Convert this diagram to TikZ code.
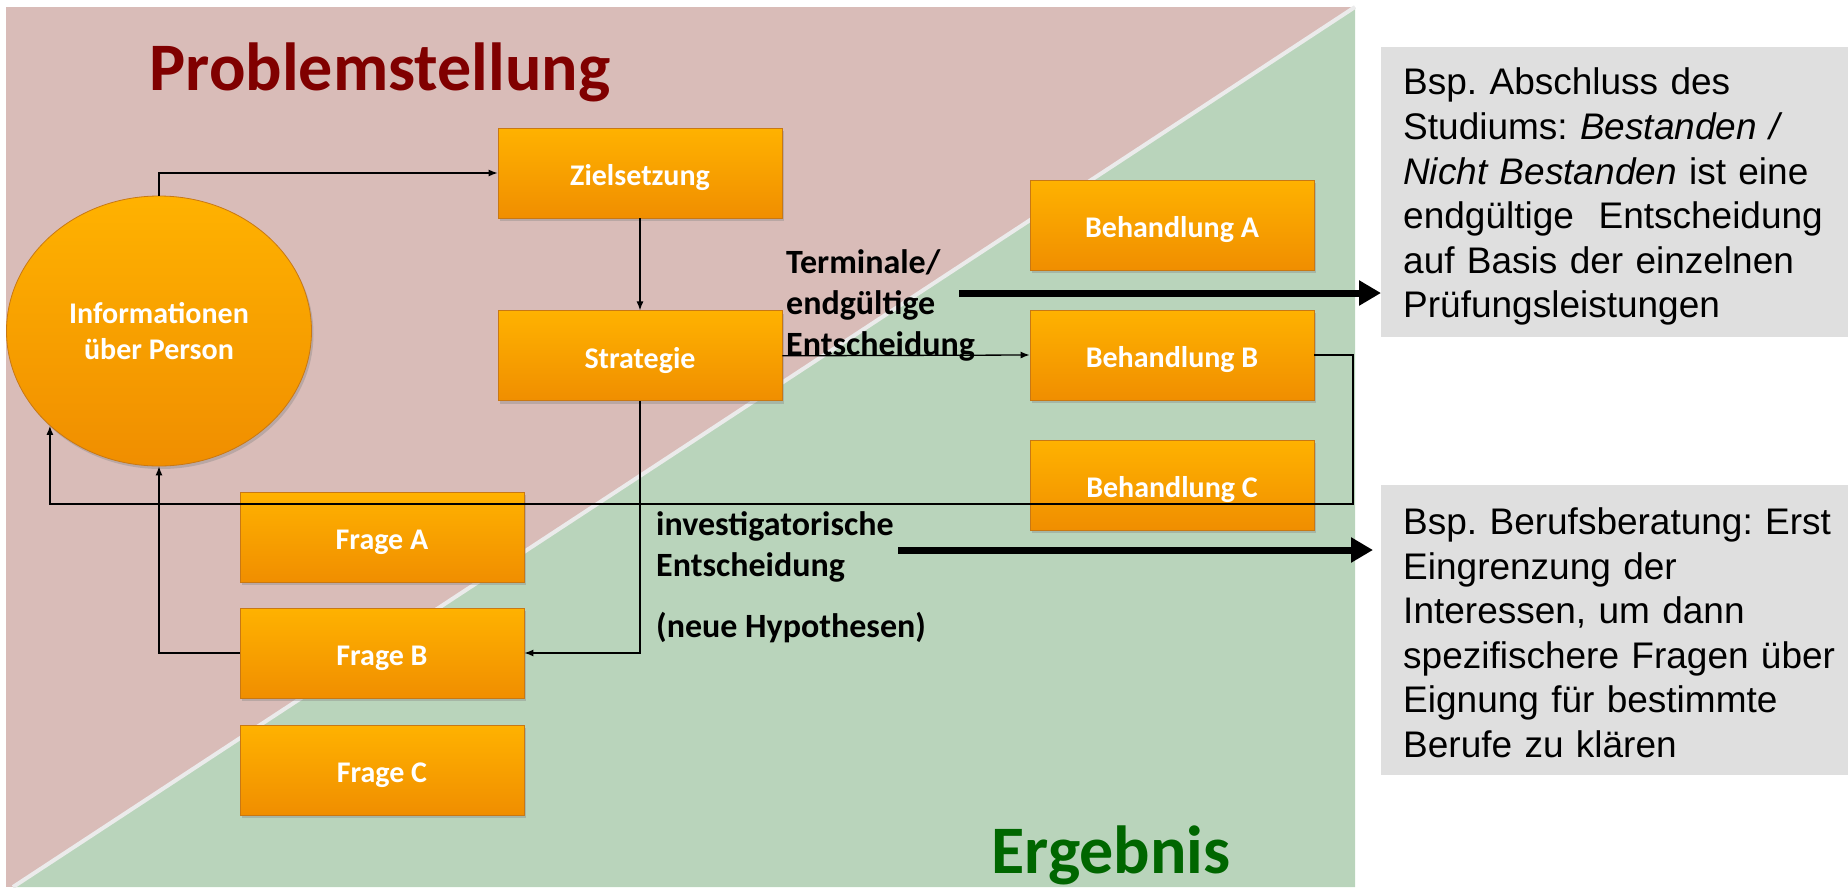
\documentclass[tikz,border=0pt]{standalone}
\usepackage{fontspec}
\setmainfont{Carlito}
\newfontfamily\arialfont{Liberation Sans}
\usetikzlibrary{positioning,shapes.geometric,shadows,arrows.meta}
\definecolor{pinkbg}{RGB}{217,188,184}
\definecolor{greenbg}{RGB}{185,212,187}
\definecolor{orangetop}{RGB}{255,178,0}
\definecolor{orangebot}{RGB}{240,142,0}
\definecolor{orangeline}{RGB}{200,120,20}
\definecolor{titlered}{RGB}{128,0,0}
\definecolor{titlegreen}{RGB}{0,102,0}
\definecolor{notegrey}{RGB}{223,223,223}

\begin{document}
\begin{tikzpicture}[x=1pt,y=-1pt]

\tikzset{obox/.style={draw=orangeline,line width=0.8pt,top color=orangetop,bottom color=orangebot,minimum width=284pt,minimum height=90pt,inner sep=0pt,font=\fontsize{30}{36}\selectfont\bfseries,text=white,text height=25pt,text depth=0pt,drop shadow={opacity=0.35,shadow xshift=2pt,shadow yshift=-3pt}},
infonode/.style={obox,ellipse,minimum width=305pt,minimum height=270pt,align=center,text height=,text depth=},
lbl/.style={font=\fontsize{34}{41}\selectfont\bfseries,align=left,inner sep=0pt},
notebox/.style={fill=notegrey,font=\arialfont\fontsize{37}{44.6}\selectfont\frenchspacing,text width=445pt,inner xsep=22pt,minimum height=290pt,align=left,anchor=north west},
thinarrow/.style={line width=1.3pt,-{Latex[length=9pt,width=7pt]}},
fatarrow/.style={line width=7pt,-{Triangle[length=22pt,width=24pt]}},
heading/.style={font=\fontsize{68}{80}\selectfont\bfseries,inner sep=0pt,anchor=base}}

\useasboundingbox (0,0) rectangle (1848,887);

% Background
\fill[pinkbg] (6,7) rectangle (1355,887);
\fill[greenbg] (13,887) -- (1355,7) -- (1355,887) -- cycle;
\draw[white!92!black,line width=4pt] (13,887) -- (1355,7);

% Headings
\node[heading,text=titlered] (probl) at (380,90) {Problemstellung};
\node[heading,text=titlegreen] (ergeb) at (1111,873) {Ergebnis};

% Boxes
\node[obox] (ziel) at (640,173) {Zielsetzung};
\node[obox,below=92pt of ziel] (strat) {Strategie};
\foreach \n/\y in {A/225,B/355,C/485} \node[obox] (behand\n) at (1172,\y) {Behandlung \n};
\foreach \n/\y in {A/537,B/653,C/770} \node[obox] (frage\n) at (382,\y) {Frage \n};
\node[infonode] (info) at (159,331) {Informationen\\über Person};

% Edges
\coordinate (loopR) at (1353,504);
\draw[thinarrow] (info.north) |- (ziel.west);
\draw[thinarrow] (ziel.south) -- (strat.north);
\draw[thinarrow] (strat.east) -- (behandB.west);
\draw[thinarrow] (strat.south) |- (frageB.east);
\draw[thinarrow] (frageB.west) -| (info.south);
\draw[thinarrow] (behandB.east) -| (loopR) -| (info.221);

% Labels
\node[lbl,anchor=west] (termlbl) at (786,305) {Terminale/\\endgültige\\Entscheidung};
\node[lbl,anchor=north west] (invlbl) at (656,511) {investigatorische\\Entscheidung\\[20pt](neue Hypothesen)};

% Examples
\node[notebox] (note1) at (1381,47) {\rule{0pt}{36pt}Bsp. Abschluss des\\Studiums: \textit{Bestanden /}\\\textit{Nicht Bestanden} ist eine\\endgültige~ Entscheidung\\auf Basis der einzelnen\\Prüfungsleistungen};
\node[notebox] (note2) at (1381,485) {\rule{0pt}{32pt}Bsp. Berufsberatung: Erst\\Eingrenzung der\\Interessen, um dann\\spezifischere Fragen über\\Eignung für bestimmte\\Berufe zu klären};

\coordinate (termfrom) at (959,293);
\coordinate (invfrom) at (898,550);
\draw[fatarrow] (termfrom) -- (termfrom -| note1.west);
\draw[fatarrow] (invfrom) -- ([xshift=-8pt]invfrom -| note2.west);

\end{tikzpicture}
\end{document}
